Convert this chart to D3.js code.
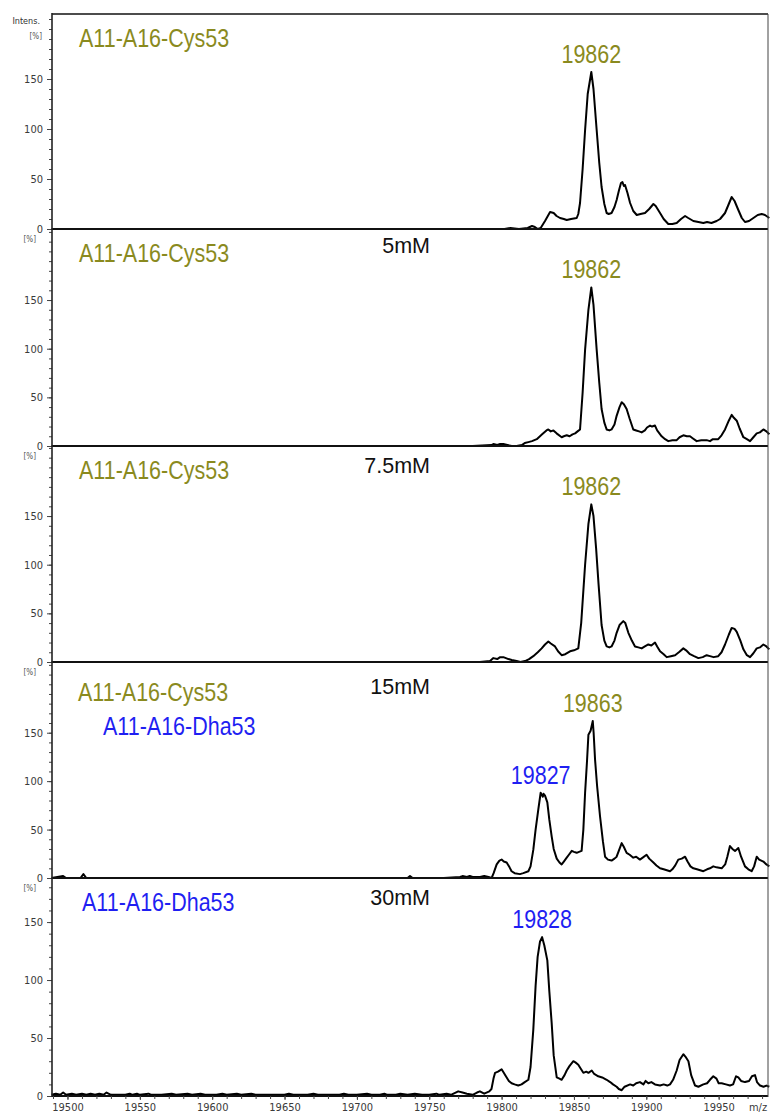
<!DOCTYPE html>
<html>
<head>
<meta charset="utf-8">
<script src="https://cdn.jsdelivr.net/npm/d3@7/dist/d3.min.js"></script>
<style>
  body { margin: 0; background: #fff; }
  .tick-label, .axis text { font-family: "Liberation Sans Narrow", "DejaVu Sans Condensed", "Liberation Sans", sans-serif; font-size: 11px; fill: #3a3a3a; }
  .big { font-family: "Liberation Sans", Arial, sans-serif; font-size: 21.5px; }
</style>
</head>
<body>
<svg id="chart" width="770" height="1113"></svg>
<script>
// ---- spectra: [m/z, relative intensity %] ----
const spectrumCys = [
  [19489,0],[19600,0],[19700,0],[19780,0],[19802,0],[19806,1],[19812,0],[19818,1],[19821,3],[19823,2],[19825,0],[19827,1],
  [19830,8],[19833.5,17],[19836,16],[19838,13],[19840.4,11],[19843,10],[19845,9],[19848,10],[19851.9,11],[19853,15],
  [19854.2,26],[19856,60],[19857.7,99],[19859.5,135],[19862,157],[19863.5,140],[19865.7,99],[19867.5,66],[19869.1,42],
  [19871,25],[19872.6,16],[19874,15],[19876,16],[19878,22],[19879.5,29],[19881,38],[19882.5,46],[19883.5,47],[19884.5,43],
  [19885.3,44],[19887,36],[19888.8,26],[19891,18],[19893.4,14],[19896,15],[19899.1,16],[19902,20],[19904.9,25],[19906.5,23],
  [19909.5,16],[19912,10],[19915.2,5],[19918,5],[19921,6],[19924,10],[19926.8,13],[19929,11],[19932.5,8],[19936,7],
  [19939.4,6],[19942,7],[19945,6],[19948.6,8],[19951,10],[19954.4,16],[19957,25],[19959,32],[19961,28],[19963.6,19],
  [19966,11],[19968.2,7],[19971,8],[19974,11],[19977,14],[19979.8,15],[19982,14],[19985,11]
];
const spectrum5mM = [
  [19489,0],[19700,0],[19780,0],[19793,1],[19794.3,2],[19797,1],[19799,2],[19801.2,2],[19804,1],[19807,0],[19810.4,0],
  [19814,1],[19816,3],[19818.5,4],[19821,5],[19824.3,7],[19828,12],[19831,16],[19832.3,17],[19834,15],[19835.8,16],
  [19838,13],[19841.5,9],[19843,10],[19845,11],[19847,10],[19849,12],[19850.8,13],[19852.5,15],[19854.2,17],[19856,55],
  [19857.7,99],[19860,140],[19862,163],[19863.5,145],[19865.7,99],[19867.5,65],[19869.1,38],[19871,24],[19872.6,17],
  [19874.5,16],[19876,17],[19878,22],[19879.5,31],[19881.5,40],[19883,45],[19884.5,43],[19886.4,38],[19888.5,28],
  [19891,17],[19893,16],[19895,15],[19896.8,14],[19899,16],[19900.5,19],[19902.6,21],[19904,20],[19906,21],[19907.5,16],
  [19910.6,10],[19913,7],[19915.2,5],[19918,6],[19921,6],[19923,9],[19925.6,11],[19928,10],[19930.2,10],[19932,8],
  [19934.8,5],[19938,6],[19941.7,6],[19944,5],[19946,7],[19949.7,7],[19952,11],[19954.4,17],[19957,26],[19959,32],
  [19960.5,29],[19962.5,26],[19964.5,18],[19967.1,9],[19969.5,7],[19971.7,5],[19974,9],[19976.3,13],[19978.5,14],
  [19980.9,17],[19983,15],[19985,12]
];
const spectrum7_5mM = [
  [19489,0],[19700,0],[19785,0],[19792,1],[19794.3,4],[19797,3],[19799,5],[19801.2,5],[19803,4],[19804.7,3],[19807,2],
  [19810.4,1],[19813,0],[19816.2,1],[19819,3],[19821.9,6],[19825,10],[19827.7,14],[19830,18],[19832.3,21],[19834,19],
  [19836.9,16],[19839,11],[19841.5,7],[19844,8],[19847.3,11],[19850,12],[19853,14],[19855,40],[19857.7,100],[19860,142],
  [19862,162],[19863.5,150],[19865.3,117],[19867,80],[19869.1,38],[19871,22],[19872.6,16],[19874.5,15],[19876,16],
  [19878,22],[19879.5,30],[19881.5,38],[19884.1,42],[19885.5,40],[19887.6,30],[19890,22],[19892.2,16],[19894.5,15],
  [19896.8,14],[19899,16],[19901.4,18],[19903.5,17],[19906,20],[19907.5,16],[19909.5,11],[19912,8],[19914.1,5],[19917,6],
  [19919.9,7],[19922.5,10],[19925.6,14],[19927.5,12],[19930.2,8],[19933,6],[19936,4],[19939,5],[19941.7,7],[19944,6],
  [19946.5,5],[19949.7,6],[19952,10],[19954.4,18],[19957,28],[19959,35],[19961,34],[19962.5,31],[19965,22],[19967.1,13],
  [19969.5,7],[19971.7,5],[19974,9],[19976.3,14],[19978.5,15],[19980.9,18],[19983,16],[19985,13]
];
const spectrum15mM = [
  [19489,0],[19497,2],[19499,0],[19509,0],[19511,4],[19513,0],[19600,0],[19700,0],[19735,0],[19736.7,2],[19738.5,0],
  [19760,0],[19771.3,1],[19773,2],[19776,1],[19778,2],[19780,1],[19785.1,1],[19788,2],[19791,1],[19793.1,0],[19794.5,5],
  [19796.6,14],[19798.5,18],[19800,19],[19801.5,17],[19803.5,16],[19805.5,11],[19806.9,7],[19809,5],[19812.7,4],[19815,5],
  [19818.5,7],[19820,12],[19821.9,29],[19823.5,50],[19825.4,71],[19827,88],[19828.5,84],[19829,87],[19830,85],
  [19831.6,78],[19833,60],[19834.6,43],[19836,30],[19838.1,20],[19840,16],[19841.5,14],[19843,17],[19845,21],
  [19846.5,24],[19848.5,28],[19850,27],[19851.9,26],[19853.5,27],[19855.3,28],[19856.5,50],[19857.7,88],[19859,120],
  [19860,148],[19861.5,152],[19863,162],[19863.6,150],[19864.6,122],[19866,95],[19868,64],[19870,38],[19871.5,22],
  [19873.5,19],[19876,18],[19878,20],[19879.5,22],[19881.5,30],[19883,36],[19884.5,32],[19886.4,26],[19888.5,24],
  [19891,21],[19893,22],[19895.6,19],[19897.5,21],[19900.2,24],[19902,20],[19904.9,16],[19907,13],[19909.5,10],[19912,9],
  [19916.4,7],[19918,9],[19920,13],[19922.1,19],[19924.5,20],[19926.8,22],[19928.5,17],[19930.5,12],[19932.5,10],
  [19935,9],[19939.4,7],[19942,9],[19944,10],[19946.3,12],[19948.5,11],[19952.1,10],[19954.5,14],[19956,22],[19957.8,33],
  [19959.5,30],[19961.3,28],[19963.6,31],[19965.5,22],[19968.2,12],[19970.5,9],[19972.8,7],[19974.5,12],[19976.3,22],
  [19978,19],[19980.9,17],[19983,14],[19985,12]
];
const spectrum30mM = [
  [19489,1],[19492,2],[19495,1],[19497,3],[19499,1],[19503,2],[19506,1],[19510,2],[19513,1],[19516,2],[19519,1],[19522,2],
  [19525,1],[19527,3],[19530,1],[19535,1],[19540,1],[19543,2],[19545,1],[19548,2],[19550,1],[19556,2],[19558,1],[19565,1],
  [19572,2],[19575,1],[19583,2],[19586,1],[19592,2],[19595,1],[19603,1],[19607,2],[19610,1],[19617,2],[19620,1],[19627,2],
  [19630,1],[19640,1],[19650,1],[19653,2],[19656,1],[19666,1],[19670,2],[19673,1],[19680,1],[19688,1],[19691,2],[19694,1],
  [19700,1],[19707,2],[19710,1],[19716,1],[19719,2],[19721,1],[19727,1],[19730,2],[19735,1],[19740,2],[19745,1],[19750,1],
  [19755,2],[19757,1],[19762,2],[19765,1],[19770,4],[19773,3],[19776,2],[19780,1],[19783,3],[19785,4],[19788,2],
  [19791.5,4],[19793,6],[19794.4,15],[19795.5,20],[19797.5,21],[19800,23],[19801.5,20],[19803.5,16],[19805,13],
  [19806.9,11],[19809,10],[19811.5,9],[19813.8,10],[19816,12],[19818.5,14],[19820,25],[19821.9,57],[19823.5,95],
  [19824.9,120],[19826.5,133],[19828,137],[19829.5,130],[19831.6,117],[19833,90],[19834.6,63],[19836,35],[19838.1,16],
  [19840,15],[19841.5,14],[19843.5,18],[19845,22],[19847,26],[19849.6,30],[19851,29],[19853,27],[19854.5,24],[19856.5,20],
  [19858.5,21],[19860,20],[19862.3,22],[19864,19],[19866.8,17],[19869.5,16],[19872.6,14],[19875,12],[19877,10],
  [19879.5,8],[19881,6],[19883,5],[19885,8],[19888.8,10],[19891,9],[19893,11],[19895.6,12],[19898,10],[19899.5,13],
  [19901.4,11],[19903.5,12],[19906,10],[19909.5,9],[19912,10],[19914.5,9],[19916.4,10],[19918.5,14],[19921,22],[19923,31],
  [19925.6,36],[19927,34],[19929.1,30],[19931,18],[19933.7,9],[19936,8],[19939.4,10],[19942,11],[19944,14],[19946.3,17],
  [19948.5,15],[19950,11],[19952.1,11],[19955,10],[19957.8,9],[19960,10],[19962,17],[19963.6,16],[19965.5,13],
  [19968.2,12],[19971,13],[19973,17],[19975.1,18],[19976.5,12],[19978.6,9],[19981,8],[19983,9],[19985,8]
];

// ---- labels ----
const concentrations = ["", "5mM", "7.5mM", "15mM", "30mM"];
const speciesCys = "A11-A16-Cys53";
const speciesDha = "A11-A16-Dha53";
// species shown per panel ("cys" / "dha")
const panelSpecies = [["cys"], ["cys"], ["cys"], ["cys", "dha"], ["dha"]];
// annotated peaks per panel: [m/z, intensity, species]
const peakLabels = [
  [[19862, 157, "cys"]],
  [[19862, 163, "cys"]],
  [[19862, 162, "cys"]],
  [[19863, 162, "cys"], [19827, 88, "dha"]],
  [[19828, 137, "dha"]]
];
const yTickLabels = [0, 50, 100, 150];
const xTickLabels = [19500, 19550, 19600, 19650, 19700, 19750, 19800, 19850, 19900, 19950];

const spectra = [spectrumCys, spectrum5mM, spectrum7_5mM, spectrum15mM, spectrum30mM];

// ---- layout ----
const left = 52, right = 768;
const panelTop = [14, 229, 446, 662, 878];
const panelZero = [229, 446, 662, 878, 1096];
const panelMax = [215, 223, 222, 223, 188];
const colors = { cys: "#8a8a1e", dha: "#1f1ff2" };

const svg = d3.select("#chart");
const x = d3.scaleLinear().domain([19489.3, 19984.1]).range([left, right]);

const line = d3.line().x(d => x(d[0]));

spectra.forEach((data, i) => {
  const y = d3.scaleLinear().domain([0, panelMax[i]]).range([panelZero[i], panelTop[i]]);
  const g = svg.append("g");

  // minor ticks every 10 %
  const minor = g.append("g").attr("class", "axis")
    .attr("transform", `translate(${left},0)`)
    .call(d3.axisLeft(y).tickValues(d3.range(0, panelMax[i] + 0.1, 10)).tickSize(3).tickFormat(""));
  minor.select(".domain").remove();
  minor.selectAll("line").attr("stroke", "#444");

  const major = g.append("g").attr("class", "axis")
    .attr("transform", `translate(${left},0)`)
    .call(d3.axisLeft(y).tickValues(yTickLabels).tickSize(5).tickPadding(4));
  major.select(".domain").remove();
  major.selectAll("line").attr("stroke", "#444");

  // "[%]" unit label
  const unitY = i === 0 ? 36 : panelTop[i] + 10;
  g.append("text").attr("class", "tick-label")
    .attr("x", i === 0 ? 42 : 36).attr("y", unitY).attr("text-anchor", "end")
    .attr("dominant-baseline", "middle").style("font-size", "8px").style("fill", "#555")
    .text("[%]");

  // spectrum trace
  g.append("path").datum(data)
    .attr("d", line.y(d => y(d[1])))
    .attr("fill", "none").attr("stroke", "#000").attr("stroke-width", 2)
    .attr("stroke-linejoin", "round");

  // zero line
  g.append("line").attr("x1", left).attr("x2", right)
    .attr("y1", panelZero[i]).attr("y2", panelZero[i])
    .attr("stroke", "#111").attr("stroke-width", 2);

  // species names
  const sp = panelSpecies[i];
  sp.forEach((s, k) => {
    let tx, ty;
    if (i === 3) { tx = k === 0 ? 78 : 103; ty = k === 0 ? 701 : 735; }
    else { tx = i === 4 ? 82 : 79; ty = panelTop[i] + 33; }
    g.append("text").attr("class", "big")
      .attr("transform", `translate(${tx},${ty}) scale(1,1.2)`)
      .attr("fill", colors[s])
      .text(s === "cys" ? speciesCys : speciesDha);
  });

  // concentration
  if (concentrations[i]) {
    const cy = [0, 253, 473, 694, 905][i];
    g.append("text").attr("class", "big")
      .attr("x", 430).attr("y", cy).attr("text-anchor", "end").attr("fill", "#111")
      .text(concentrations[i]);
  }

  // peak annotations
  peakLabels[i].forEach(p => {
    g.append("text").attr("class", "big")
      .attr("transform", `translate(${x(p[0])},${y(p[1]) - 9}) scale(1,1.2)`)
      .attr("text-anchor", "middle").attr("fill", colors[p[2]])
      .text(p[0]);
  });
});

// frame: top border, left axis line, right border
svg.append("line").attr("x1", left).attr("x2", right).attr("y1", 14).attr("y2", 14)
  .attr("stroke", "#111").attr("stroke-width", 1.6);
svg.append("line").attr("x1", left).attr("x2", left).attr("y1", 13).attr("y2", 1097)
  .attr("stroke", "#222").attr("stroke-width", 1.6);
svg.append("line").attr("x1", right).attr("x2", right).attr("y1", 14).attr("y2", 1097)
  .attr("stroke", "#444").attr("stroke-width", 1);

// "Intens." caption
svg.append("text").attr("class", "tick-label")
  .attr("x", 40).attr("y", 21).attr("text-anchor", "end").attr("dominant-baseline", "middle")
  .style("font-size", "9px").style("fill", "#333").text("Intens.");

// m/z axis at the bottom
const yb = panelZero[4];
const xMinor = svg.append("g").attr("class", "axis").attr("transform", `translate(0,${yb})`)
  .call(d3.axisBottom(x).tickValues(d3.range(19490, 19985, 10)).tickSize(3).tickFormat(""));
xMinor.select(".domain").remove();
xMinor.selectAll("line").attr("stroke", "#444");
const xMajor = svg.append("g").attr("class", "axis").attr("transform", `translate(0,${yb})`)
  .call(d3.axisBottom(x).tickValues(xTickLabels).tickSize(4).tickPadding(3).tickFormat(d3.format("d")));
xMajor.select(".domain").remove();
xMajor.selectAll("line").attr("stroke", "#444");

svg.append("text").attr("class", "tick-label")
  .attr("x", 758).attr("y", 1108).attr("text-anchor", "middle").attr("dominant-baseline", "middle")
  .text("m/z");
</script>
</body>
</html>
